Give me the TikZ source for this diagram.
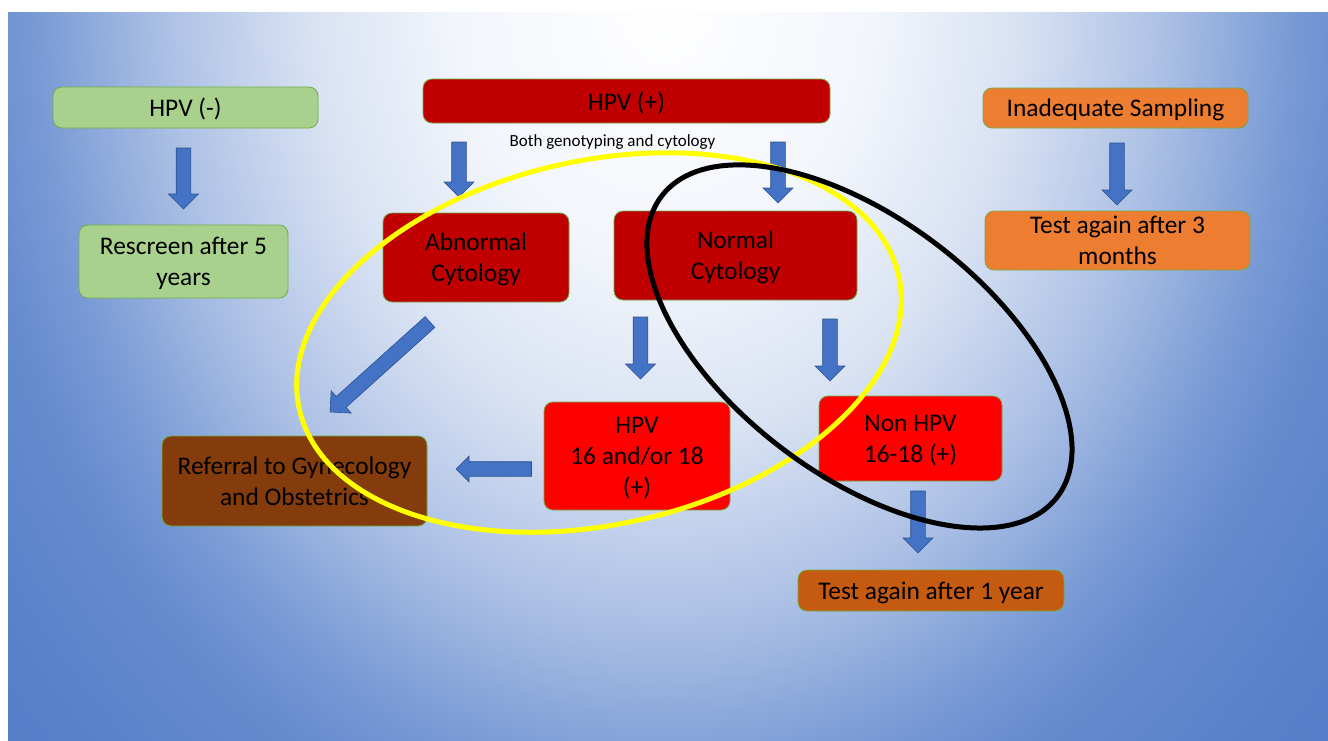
\documentclass[tikz,border=0pt]{standalone}
\usepackage{fontspec}
\setmainfont{Carlito}
\usetikzlibrary{calc}
\definecolor{bgblue}{HTML}{4472C4}
\definecolor{arrfill}{HTML}{4472C4}
\definecolor{arrline}{HTML}{2F528F}
\definecolor{boxline}{HTML}{70AD47}
\definecolor{lgreen}{HTML}{A9D18E}
\definecolor{dred}{HTML}{C00000}
\definecolor{orng}{HTML}{ED7D31}
\definecolor{brred}{HTML}{FF0000}
\definecolor{brownbox}{HTML}{843C0C}
\definecolor{orngdark}{HTML}{C55A11}
\definecolor{ringyellow}{HTML}{FFFF00}
\colorlet{bgA}{bgblue!7!white}
\colorlet{bgB}{bgblue!20!white}
\colorlet{bgC}{bgblue!43!white}
\colorlet{bgD}{bgblue!72!white}
\colorlet{bgE}{bgblue!82!white}
\colorlet{bgF}{bgblue!90!white}
\colorlet{bgG}{bgblue!92!white}
\pgfdeclareradialshading{bgshade}{\pgfpoint{0bp}{0bp}}{color(0bp)=(white); color(5.77bp)=(bgA); color(9.6bp)=(bgB); color(13.5bp)=(bgC); color(17.3bp)=(bgD); color(19.2bp)=(bgE); color(23.1bp)=(bgF); color(25bp)=(bgG); color(50bp)=(bgG)}
\newcommand\blockarrow[3][15]{%
  \path (#2); \pgfgetlastxy{\baax}{\baay}%
  \path (#3); \pgfgetlastxy{\babx}{\baby}%
  \pgfmathsetmacro\baang{atan2(\baby-\baay,\babx-\baax)}%
  \pgfmathsetmacro\balen{veclen(\babx-\baax,\baby-\baay)}%
  \draw[barrow, shift={(#2)}, rotate=\baang] (0,-7.3) -- ({\balen-#1},-7.3) -- ({\balen-#1},-#1) -- (\balen,0) -- ({\balen-#1},#1) -- ({\balen-#1},7.3) -- (0,7.3) -- cycle;%
}
\begin{document}
\begin{tikzpicture}[x=1pt,y=-1pt,
  box/.style={draw=boxline, line width=0.8pt, rounded corners=9pt, align=center, inner sep=0pt, text=black, text depth=0pt, font=\fontsize{25.4pt}{31pt}\selectfont},
  greenbox/.style={box, fill=lgreen},
  redbox/.style={box, fill=dred},
  brightbox/.style={box, fill=brred},
  orangebox/.style={box, fill=orng},
  brownbx/.style={box, fill=brownbox},
  darkorangebox/.style={box, fill=orngdark},
  barrow/.style={fill=arrfill, draw=arrline, line width=0.6pt, line join=miter},
  ring/.style={line width=5pt}
]
\useasboundingbox (0,0) rectangle (1328,740);
\fill[white] (0,0) rectangle (1328,740);
\begin{scope}
  \clip (8,12) rectangle (1328,740);
  \shade[overlay, shading=bgshade] (664,0) ellipse (910pt and 1131pt);
\end{scope}

% boxes
\node[greenbox, minimum width=265pt, minimum height=41pt] (hpvneg) at (185.5,107.5) {HPV (-)};
\node[greenbox, minimum width=209pt, minimum height=73pt] (rescreen) at (183.5,261.5) {Rescreen after 5\\years};
\node[redbox, minimum width=407pt, minimum height=44pt] (hpvpos) at (626.5,101) {HPV (+)};
\node[inner sep=0pt, text=black, text depth=0pt, font=\fontsize{17pt}{20pt}\selectfont] (both) at (612.5,141) {Both genotyping and cytology};
\node[redbox, minimum width=186pt, minimum height=89pt] (abn) at (476,257.5) {Abnormal\\Cytology};
\node[redbox, minimum width=243pt, minimum height=89pt] (norm) at (735.5,255.5) {Normal\\Cytology};
\node[orangebox, minimum width=265pt, minimum height=40pt] (inadeq) at (1115.5,108) {Inadequate Sampling};
\node[orangebox, minimum width=265pt, minimum height=59pt] (test3) at (1117.5,240.5) {Test again after 3\\months};
\node[brightbox, minimum width=186pt, minimum height=108pt] (hpv16) at (637,456) {HPV\\16 and/or 18\\(+)};
\node[brightbox, minimum width=183pt, minimum height=85pt] (nonhpv) at (910.5,438.5) {Non HPV\\16-18 (+)};
\node[brownbx, minimum width=265pt, minimum height=90pt] (referral) at (294.5,481) {Referral to Gynecology\\and Obstetrics};
\node[darkorangebox, minimum width=266pt, minimum height=41pt] (test1) at (931,590.5) {Test again after 1 year};

% arrow end points
\coordinate (a1s) at (183.5,148);  \coordinate (a1e) at (183.5,209);
\coordinate (a2s) at (1117,143);   \coordinate (a2e) at (1117,205);
\coordinate (a3s) at (459,142);    \coordinate (a3e) at (459,197);
\coordinate (a4s) at (778,142);    \coordinate (a4e) at (778,203);
\coordinate (a5s) at (430,322);    \coordinate (a5e) at (330,412);
\coordinate (a6s) at (640.5,317);  \coordinate (a6e) at (640.5,379);
\coordinate (a7s) at (830,319);    \coordinate (a7e) at (830,381);
\coordinate (a8s) at (531.5,469);  \coordinate (a8e) at (456,469);
\coordinate (a9s) at (918,491);    \coordinate (a9e) at (918,553);

\blockarrow{a1s}{a1e}
\blockarrow{a2s}{a2e}
\blockarrow{a3s}{a3e}
\blockarrow{a4s}{a4e}
\blockarrow{a5s}{a5e}
\blockarrow{a6s}{a6e}
\blockarrow{a7s}{a7e}
\blockarrow[13]{a8s}{a8e}
\blockarrow{a9s}{a9e}

% rings
\coordinate (yc) at (599,342.5);
\coordinate (bc) at (859.5,346.5);
\draw[ring, draw=ringyellow, rotate around={12.5:(yc)}] (yc) ellipse (307pt and 182pt);
\draw[ring, draw=black, rotate around={-37.2:(bc)}] (bc) ellipse (248.5pt and 128pt);
\end{tikzpicture}
\end{document}
